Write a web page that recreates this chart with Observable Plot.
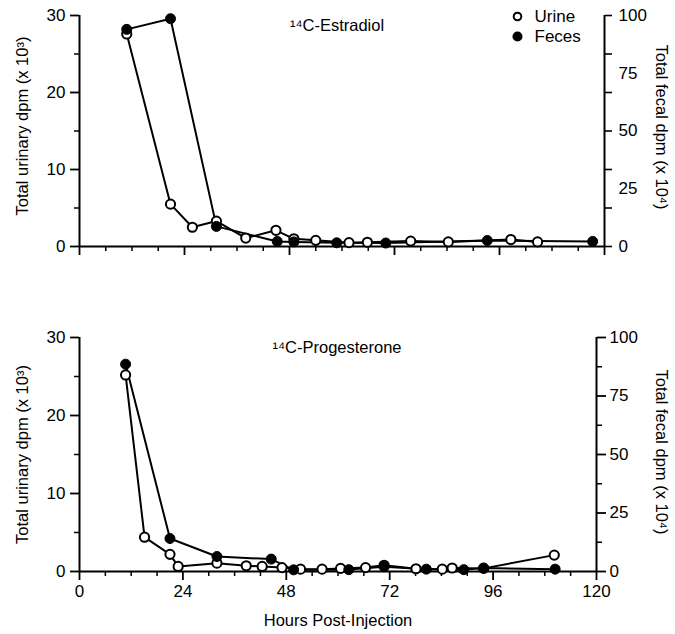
<!DOCTYPE html>
<html><head><meta charset="utf-8">
<script src="https://cdn.jsdelivr.net/npm/d3@7"></script>
<script src="https://cdn.jsdelivr.net/npm/@observablehq/plot@0.6"></script>
<style>
body{margin:0;background:#fff;}
#chart{width:675px;height:634px;}
#chart svg{display:block;}
</style></head><body><div id="chart"></div>
<script>
// ---- tick labels ----
const hourTicks = [0, 24, 48, 72, 96, 120];
const hourMinorTicks = [6, 12, 18, 30, 36, 42, 54, 60, 66, 78, 84, 90, 102, 108, 114];
const urineTicks = [0, 10, 20, 30];
const urineMinorTicks = [5, 15, 25];
const fecalTicks = [0, 25, 50, 75, 100];
const fecalMinorTicks = [12.5, 37.5, 62.5, 87.5];
const fecalPerUrine = 100 / 30; // right axis 0-100 (x10^4) vs left axis 0-30 (x10^3)

// ---- 14C-Estradiol ----
const estUrineHours  = [10.8, 20.8, 25.8, 31.3, 38.0, 44.9, 49.0, 54.0, 61.6, 65.8, 75.7, 84.3, 98.6, 104.7];
const estUrineValues = [27.6, 5.5, 2.5, 3.3, 1.1, 2.1, 1.0, 0.8, 0.5, 0.55, 0.7, 0.6, 0.9, 0.6];
const estFecesHours  = [10.8, 20.8, 31.3, 45.2, 49.0, 58.8, 70.0, 93.2, 117.3];
const estFecesValues = [94, 98.6, 8.7, 2.2, 2.0, 1.6, 1.5, 2.6, 2.2];

// ---- 14C-Progesterone ----
const proUrineHours  = [10.7, 15.1, 21.0, 22.9, 31.9, 38.7, 42.4, 47.0, 51.3, 56.3, 60.6, 66.4, 70.7, 78.1, 84.2, 86.5, 93.8, 110.2];
const proUrineValues = [25.2, 4.4, 2.2, 0.65, 1.07, 0.73, 0.65, 0.5, 0.3, 0.3, 0.4, 0.5, 0.8, 0.35, 0.3, 0.45, 0.4, 2.1];
const proFecesHours  = [10.7, 21.0, 31.9, 44.5, 49.7, 62.5, 70.7, 80.5, 89.2, 93.8, 110.4];
const proFecesValues = [88.6, 14.1, 6.4, 5.3, 0.7, 0.8, 2.0, 1.0, 0.8, 1.5, 1.0];

const FONT = "'Liberation Sans', Arial, Helvetica, sans-serif";
const TICK_FS = 17, TITLE_FS = 16.5;
const zip = (h, v) => h.map((x, i) => ({hour: x, value: v[i]}));

function panel({title, urine, feces, height, marginTop, marginBottom, marginRight,
                showXLabels, rightStyle, legend, titleDx, leftDy, rightDy}) {
  const toU = d => d.value / fecalPerUrine;
  const marks = [
    // axis lines
    Plot.ruleY([0], {stroke: "black", strokeWidth: 2}),
    Plot.ruleX([0], {stroke: "black", strokeWidth: 2}),
    Plot.ruleX([120], {stroke: "black", strokeWidth: 2}),
    // x ticks
    Plot.axisX(hourTicks, {anchor: "bottom", tickSize: 9, tickPadding: 4, strokeWidth: 1.8,
      fontSize: TICK_FS, label: null, tickFormat: showXLabels ? (d => d) : (() => "")}),
    Plot.axisX(hourMinorTicks, {anchor: "bottom", tickSize: 5, strokeWidth: 1.5, label: null, tickFormat: () => ""}),
    // left axis
    Plot.axisY(urineTicks, {anchor: "left", tickSize: 9, tickPadding: 5, strokeWidth: 1.8, fontSize: TICK_FS, label: null}),
    Plot.axisY(urineMinorTicks, {anchor: "left", tickSize: 5, strokeWidth: 1.5, label: null, tickFormat: () => ""}),
    // right axis labels
    Plot.axisY(fecalTicks.map(v => v / fecalPerUrine), {anchor: "right", tickSize: rightStyle === "top" ? 0 : 9,
      tickPadding: rightStyle === "top" ? 14 : 4, strokeWidth: 1.8, fontSize: TICK_FS, label: null,
      tickFormat: d => String(Math.round(d * fecalPerUrine))}),
    rightStyle === "top"
      ? Plot.axisY(urineTicks.concat(urineMinorTicks), {anchor: "right", tickSize: 7, strokeWidth: 1.6, label: null, tickFormat: () => ""})
      : Plot.axisY(fecalMinorTicks.map(v => v / fecalPerUrine), {anchor: "right", tickSize: 5, strokeWidth: 1.5, label: null, tickFormat: () => ""}),
    // axis titles
    Plot.text(["Total urinary dpm (x 10³)"], {frameAnchor: "left", dx: -57, dy: leftDy, rotate: -90,
      fontSize: TITLE_FS, textAnchor: "middle", lineAnchor: "middle"}),
    Plot.text(["Total fecal dpm (x 10⁴)"], {frameAnchor: "right", dx: 661 - (675 - marginRight), dy: rightDy, rotate: 90,
      fontSize: TITLE_FS, textAnchor: "middle", lineAnchor: "middle"}),
    Plot.text([title], {frameAnchor: "top", dx: titleDx, dy: 10, fontSize: TITLE_FS, lineAnchor: "middle"}),
    // data
    Plot.line(urine, {x: "hour", y: "value", stroke: "black", strokeWidth: 2}),
    Plot.line(feces, {x: "hour", y: toU, stroke: "black", strokeWidth: 2}),
    Plot.dot(urine, {x: "hour", y: "value", r: 4.6, fill: "white", stroke: "black", strokeWidth: 2}),
    Plot.dot(feces, {x: "hour", y: toU, r: 5, fill: "black", stroke: "black", strokeWidth: 1})
  ];
  if (showXLabels) {
    marks.push(Plot.text(["Hours Post-Injection"], {frameAnchor: "bottom", dy: 49, fontSize: TITLE_FS, lineAnchor: "middle"}));
  }
  if (legend) {
    marks.push(
      Plot.dot(["Urine"], {frameAnchor: "top-right", dx: -87, dy: 1, r: 3.8, fill: "white", stroke: "black", strokeWidth: 2}),
      Plot.dot(["Feces"], {frameAnchor: "top-right", dx: -87, dy: 21, r: 4.3, fill: "black", stroke: "black"}),
      Plot.text(["Urine"], {frameAnchor: "top-right", dx: -70, dy: 1, textAnchor: "start", lineAnchor: "middle", fontSize: TICK_FS}),
      Plot.text(["Feces"], {frameAnchor: "top-right", dx: -70, dy: 21, textAnchor: "start", lineAnchor: "middle", fontSize: TICK_FS})
    );
  }
  return Plot.plot({
    width: 675, height, marginLeft: 79, marginRight, marginTop, marginBottom,
    x: {domain: [0, 120]},
    y: {domain: [0, 30]},
    style: {fontFamily: FONT, fontSize: "16px", color: "black", background: "white", overflow: "visible"},
    marks
  });
}

const chart = document.getElementById("chart");
chart.append(panel({
  title: "¹⁴C-Estradiol",
  urine: zip(estUrineHours, estUrineValues),
  feces: zip(estFecesHours, estFecesValues),
  height: 300, marginTop: 15, marginBottom: 54, marginRight: 71,
  showXLabels: false, rightStyle: "top", legend: true, titleDx: -5, leftDy: -5, rightDy: -4
}));
chart.append(panel({
  title: "¹⁴C-Progesterone",
  urine: zip(proUrineHours, proUrineValues),
  feces: zip(proFecesHours, proFecesValues),
  height: 334, marginTop: 37, marginBottom: 63, marginRight: 79,
  showXLabels: true, rightStyle: "bottom", legend: false, titleDx: -1, leftDy: 0, rightDy: -2.5
}));
</script></body></html>
